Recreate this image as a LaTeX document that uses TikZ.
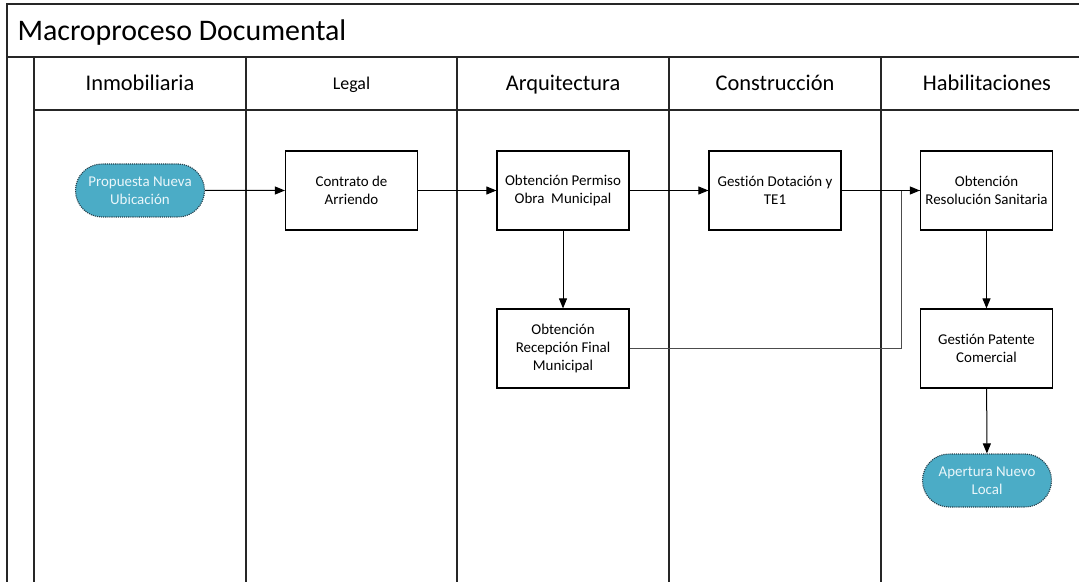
\documentclass[tikz,border=0pt]{standalone}
\usepackage{fontspec}
\setmainfont{Carlito}[Ligatures={NoCommon}]
\usetikzlibrary{arrows.meta,shapes.misc}
\definecolor{pillfill}{HTML}{4BACC6}
\definecolor{pilltext}{HTML}{EAF6FA}
\definecolor{pillline}{HTML}{26404C}
\tikzset{
  frame/.style={line width=1.4bp, draw=black!85},
  stepbox/.style={draw=black, line width=1.2bp, fill=white, minimum width=132bp,
    minimum height=79bp, align=center, inner sep=2bp,
    font=\fontsize{15}{18}\selectfont},
  terminal/.style={rounded rectangle, draw=pillline, densely dotted, line width=1.1bp,
    fill=pillfill, text=pilltext, minimum width=133bp, minimum height=53bp,
    align=center, inner sep=2bp, font=\fontsize{15}{18}\selectfont},
  flow/.style={line width=1bp, draw=black, -{Triangle[length=10bp,width=8bp]}},
  lanehead/.style={font=\fontsize{22.5}{24}\selectfont, anchor=base},
}
\begin{document}
\begin{tikzpicture}[x=1bp,y=-1bp]
\useasboundingbox (0,0) rectangle (1079,582);
\fill[white] (0,0) rectangle (1079,582);

% pool frame and title bar
\draw[frame] (1079,4) -- (7,4) -- (7,582);
\draw[frame] (7,57) -- (1079,57);
\node[anchor=base west, font=\fontsize{30}{32}\selectfont] (title) at (14,41) {Macroproceso Documental};

% lanes
\draw[frame] (34,57) -- (34,582);
\draw[frame] (34,110) -- (1079,110);
\foreach \x in {246,457,669,881} \draw[frame] (\x,57) -- (\x,582);

\node[lanehead] (h1) at (140,91) {Inmobiliaria};
\node[lanehead, font=\fontsize{18}{20}\selectfont] (h2) at (351.5,90) {Legal};
\node[lanehead] (h3) at (563,91) {Arquitectura};
\node[lanehead] (h4) at (775,91) {Construcción};
\node[lanehead] (h5) at (987,91) {Habilitaciones};

% activities
\node[terminal] (inicio) at (140,190.5) {Propuesta Nueva\\Ubicación};
\node[stepbox] (contrato) at (351.5,190.5) {Contrato de\\Arriendo};
\node[stepbox] (permiso) at (563,190.5) {Obtención Permiso\\Obra~ Municipal};
\node[stepbox] (dotacion) at (775,190.5) {Gestión Dotación y\\TE1};
\node[stepbox] (sanitaria) at (986.5,190.5) {Obtención\\Resolución Sanitaria};
\node[stepbox] (recepcion) at (563,348.5) {Obtención\\Recepción Final\\Municipal};
\node[stepbox] (patente) at (986.5,348.5) {Gestión Patente\\Comercial};
\node[terminal] (fin) at (987,480.5) {Apertura Nuevo\\Local};

\coordinate (junta) at (901,348.5);

% flows: the return from the final reception joins the line into the sanitary step
\draw[line width=1bp, draw=black!70] (recepcion.east) -- (junta) |- (sanitaria.west);
\draw[flow] (inicio) -- (contrato);
\draw[flow] (contrato) -- (permiso);
\draw[flow] (permiso) -- (dotacion);
\draw[flow] (dotacion) -- (sanitaria);
\draw[flow] (permiso) -- (recepcion);
\draw[flow] (sanitaria) -- (patente);
\draw[flow] (patente) -- (fin);
\end{tikzpicture}
\end{document}
